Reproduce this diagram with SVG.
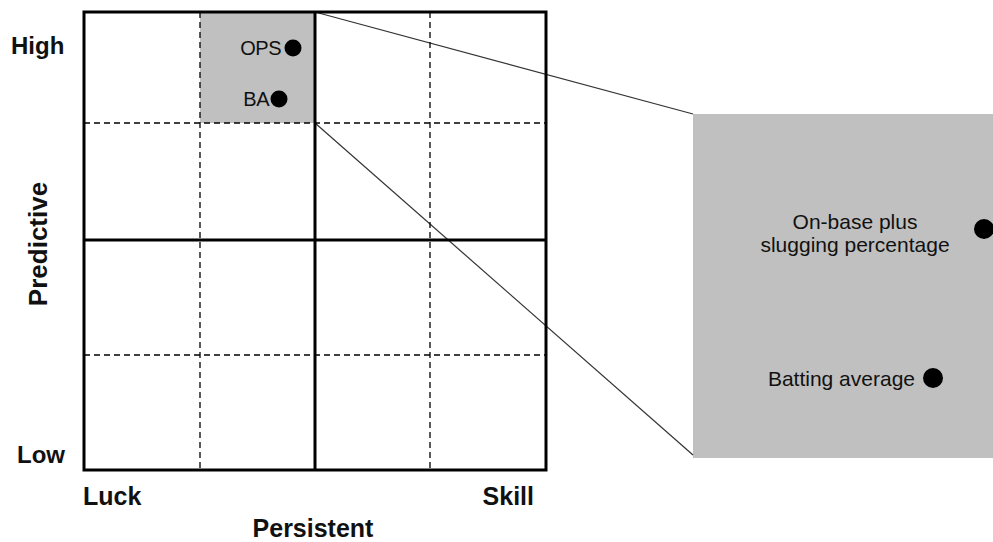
<svg xmlns="http://www.w3.org/2000/svg" width="993" height="542" viewBox="0 0 993 542">
<style>
.bold{font-family:"Liberation Sans",Arial,sans-serif;font-weight:bold;fill:#111}
.lab{font-family:"Liberation Sans",Arial,sans-serif;fill:#111}
.solid{stroke:#000;stroke-width:3;fill:none}
.dash{stroke:#000;stroke-width:1.3;stroke-dasharray:6,4;fill:none}
.conn{stroke:#333;stroke-width:1.2;fill:none}
.dot{fill:#000}
</style>
<rect width="993" height="542" fill="#fff"/>
<g id="highlight-cell"><rect x="200" y="12" width="115" height="111" fill="#c0c0c0"/></g>
<g id="zoom-box"><rect x="693" y="114" width="300" height="344" fill="#c0c0c0"/></g>
<g id="connectors">
<line class="conn" x1="315" y1="12" x2="693" y2="114"/>
<line class="conn" x1="315" y1="123" x2="693" y2="455"/>
</g>
<g id="grid">
<line class="dash" x1="200" y1="12" x2="200" y2="470"/>
<line class="dash" x1="430" y1="12" x2="430" y2="470"/>
<line class="dash" x1="84" y1="123" x2="546" y2="123"/>
<line class="dash" x1="84" y1="355" x2="546" y2="355"/>
<line class="solid" x1="315" y1="12" x2="315" y2="470"/>
<line class="solid" x1="84" y1="240" x2="546" y2="240"/>
<rect class="solid" x="84" y="12" width="462" height="458"/>
</g>
<g id="ops-point"><text class="lab" x="281" y="55" font-size="20" text-anchor="end" letter-spacing="-0.5">OPS</text><circle class="dot" cx="293" cy="48" r="8.5"/></g>
<g id="ba-point"><text class="lab" x="269" y="106" font-size="20" text-anchor="end" letter-spacing="-0.5">BA</text><circle class="dot" cx="279" cy="99" r="8.5"/></g>
<g id="ops-zoom"><text class="lab" x="855" y="229" font-size="21" text-anchor="middle">On-base plus</text><text class="lab" x="855" y="252" font-size="21" text-anchor="middle">slugging percentage</text><circle class="dot" cx="984" cy="229" r="10"/></g>
<g id="ba-zoom"><text class="lab" x="915" y="386" font-size="21" text-anchor="end">Batting average</text><circle class="dot" cx="933" cy="378" r="10"/></g>
<g id="axis-labels">
<text class="bold" x="11" y="54" font-size="24">High</text>
<text class="bold" x="17" y="463" font-size="24">Low</text>
<text class="bold" x="83" y="505" font-size="25">Luck</text>
<text class="bold" x="534" y="505" font-size="25" text-anchor="end">Skill</text>
<text class="bold" x="313" y="537" font-size="25" text-anchor="middle">Persistent</text>
<text class="bold" font-size="26" text-anchor="middle" transform="translate(47,244) rotate(-90)">Predictive</text>
</g>
</svg>
